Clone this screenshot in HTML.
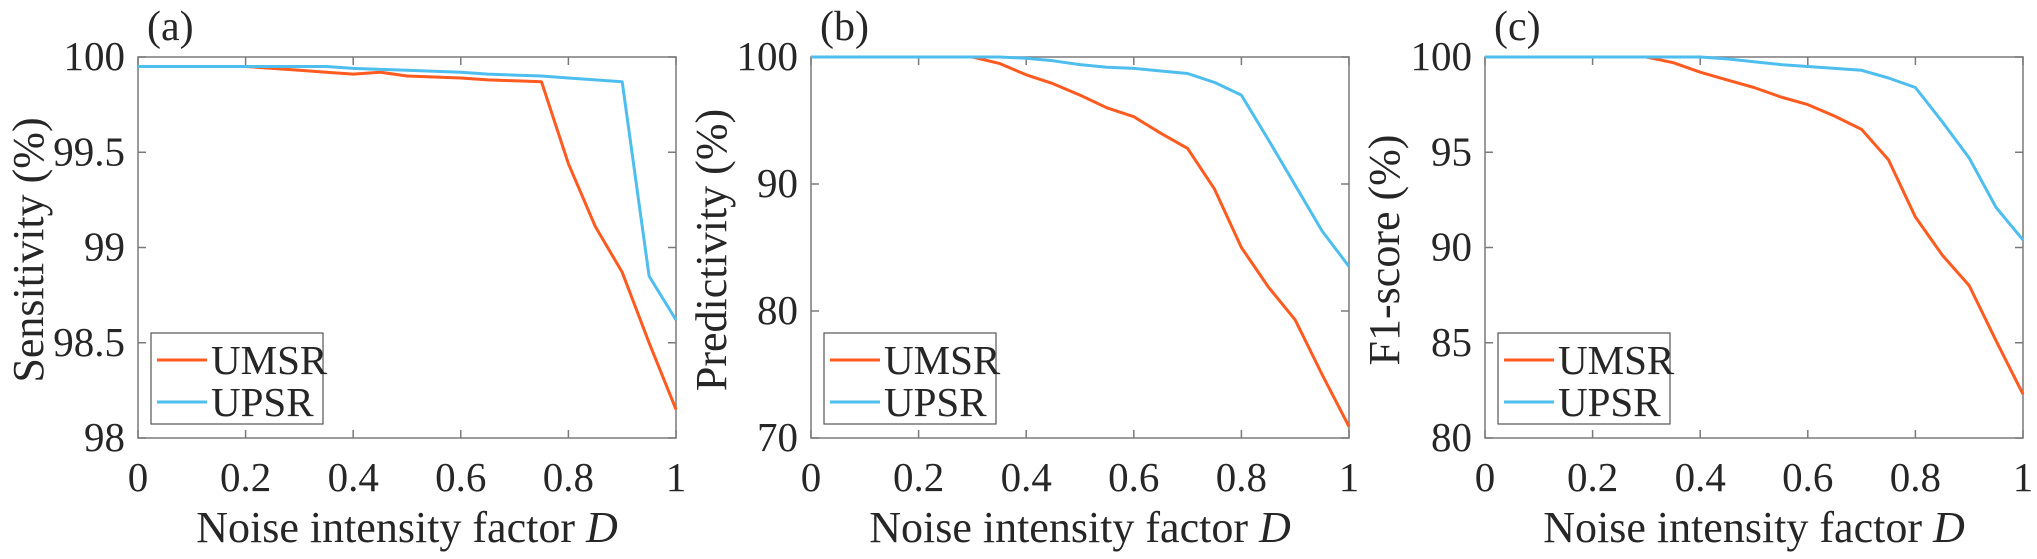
<!DOCTYPE html>
<html><head><meta charset="utf-8">
<style>
html,body{margin:0;padding:0;background:#fff;}
svg{display:block;font-family:"Liberation Serif",serif;}
</style></head>
<body>
<svg id="fig" width="2037" height="559" viewBox="0 0 2037 559"></svg>
<script>
const xs = [0,0.05,0.1,0.15,0.2,0.25,0.3,0.35,0.4,0.45,0.5,0.55,0.6,0.65,0.7,0.75,0.8,0.85,0.9,0.95,1];
const xTickVals = [0,0.2,0.4,0.6,0.8,1];
const xTickLabels = ["0","0.2","0.4","0.6","0.8","1"];
const sensUMSR = [99.95,99.95,99.95,99.95,99.95,99.94,99.93,99.92,99.91,99.92,99.90,99.895,99.89,99.88,99.875,99.87,99.44,99.11,98.87,98.5,98.15];
const sensUPSR = [99.95,99.95,99.95,99.95,99.95,99.95,99.95,99.95,99.94,99.935,99.93,99.925,99.92,99.91,99.905,99.90,99.89,99.88,99.87,98.85,98.62];
const predUMSR = [100,100,100,100,100,100,100,99.5,98.6,97.9,97.0,96.0,95.3,94.0,92.8,89.6,85.0,81.9,79.3,75.0,70.9];
const predUPSR = [100,100,100,100,100,100,100,100,99.9,99.7,99.4,99.2,99.1,98.9,98.7,98.0,97.0,93.5,89.9,86.3,83.5];
const f1UMSR = [100,100,100,100,100,100,100,99.7,99.2,98.8,98.4,97.9,97.5,96.9,96.2,94.6,91.6,89.6,88.0,85.1,82.3];
const f1UPSR = [100,100,100,100,100,100,100,100,100,99.9,99.75,99.6,99.5,99.4,99.3,98.9,98.4,96.6,94.7,92.1,90.4];
const sensTicks = [98,98.5,99,99.5,100];
const sensTickLabels = ["98","98.5","99","99.5","100"];
const predTicks = [70,80,90,100];
const predTickLabels = ["70","80","90","100"];
const f1Ticks = [80,85,90,95,100];
const f1TickLabels = ["80","85","90","95","100"];

const NS="http://www.w3.org/2000/svg";
const svg=document.getElementById('fig');
function mk(tag,attrs,parent){const e=document.createElementNS(NS,tag);for(const k in attrs)e.setAttribute(k,attrs[k]);(parent||svg).appendChild(e);return e;}

const panels=[
 {id:'a',left:138,ymin:98,ymax:100,ticks:sensTicks,tl:sensTickLabels,u:sensUMSR,p:sensUPSR,ylab:'Sensitivity (%)',ylx:28},
 {id:'b',left:811,ymin:70,ymax:100,ticks:predTicks,tl:predTickLabels,u:predUMSR,p:predUPSR,ylab:'Predictivity (%)',ylx:711},
 {id:'c',left:1485,ymin:80,ymax:100,ticks:f1Ticks,tl:f1TickLabels,u:f1UMSR,p:f1UPSR,ylab:'F1-score (%)',ylx:1384}
];
const W=538,axTop=57,axBot=438;
panels.forEach(P=>{
  const g=mk('g',{});
  
  
  const X=v=>P.left+v*W;
  const Y=v=>axBot-(v-P.ymin)/(P.ymax-P.ymin)*(axBot-axTop);
  const box=mk('rect',{x:P.left,y:axTop,width:W,height:axBot-axTop,fill:'none',stroke:'#7a7a7a','stroke-width':1.5},g);
  
  
  xTickVals.forEach((v,i)=>{
    mk('line',{x1:X(v),x2:X(v),y1:axBot,y2:axBot-8,stroke:'#7a7a7a','stroke-width':1.5},g);
    mk('line',{x1:X(v),x2:X(v),y1:axTop,y2:axTop+8,stroke:'#7a7a7a','stroke-width':1.5},g);
    const t=mk('text',{x:X(v),y:491,'font-size':41,'text-anchor':'middle',fill:'#262626'},g);
    t.textContent=xTickLabels[i];
    
    
  });
  P.ticks.forEach((v,i)=>{
    mk('line',{x1:P.left,x2:P.left+8,y1:Y(v),y2:Y(v),stroke:'#7a7a7a','stroke-width':1.5},g);
    mk('line',{x1:P.left+W,x2:P.left+W-8,y1:Y(v),y2:Y(v),stroke:'#7a7a7a','stroke-width':1.5},g);
    const t=mk('text',{x:P.left-13,y:Y(v)+13,'font-size':41,'text-anchor':'end',fill:'#262626'},g);
    t.textContent=P.tl[i];
    
    
  });
  const series=[[P.u,'#FF5A1F','umsr'],[P.p,'#4DBEEE','upsr']];
  series.forEach(s=>{
    const d=xs.map((x,i)=>(i?'L':'M')+X(x).toFixed(1)+','+Y(s[0][i]).toFixed(1)).join('');
    const pth=mk('path',{d:d,fill:'none',stroke:s[1],'stroke-width':3,'stroke-linejoin':'round'},g);
    
    
  });
  const xl=mk('text',{x:P.left+W/2,y:542,'font-size':44,'text-anchor':'middle',fill:'#262626'},g);
  xl.innerHTML='Noise intensity factor <tspan font-style="italic">D</tspan>';
  
  
  const yl=mk('text',{x:0,y:0,'font-size':44,'text-anchor':'middle',fill:'#262626',transform:`translate(${P.ylx+15},250) rotate(-90)`},g);
  yl.textContent=P.ylab;
  
  
  const ttl=mk('text',{x:P.left+9,y:40,'font-size':42,fill:'#262626'},g);
  ttl.textContent='('+P.id+')';
  
  
  const lg=mk('g',{},g);
  
  
  const lx=P.left+13;
  mk('rect',{x:lx,y:333,width:172,height:91,fill:'#fff',stroke:'#555','stroke-width':1.2},lg);
  [['UMSR','#FF5A1F',360],['UPSR','#4DBEEE',402]].forEach(e=>{
    const en=mk('g',{},lg);
    
    
    mk('line',{x1:lx+6,x2:lx+56,y1:e[2],y2:e[2],stroke:e[1],'stroke-width':3},en);
    const t=mk('text',{x:lx+60,y:e[2]+14,'font-size':41,fill:'#262626'},en);
    t.textContent=e[0];
  });
});
</script>
</body></html>
